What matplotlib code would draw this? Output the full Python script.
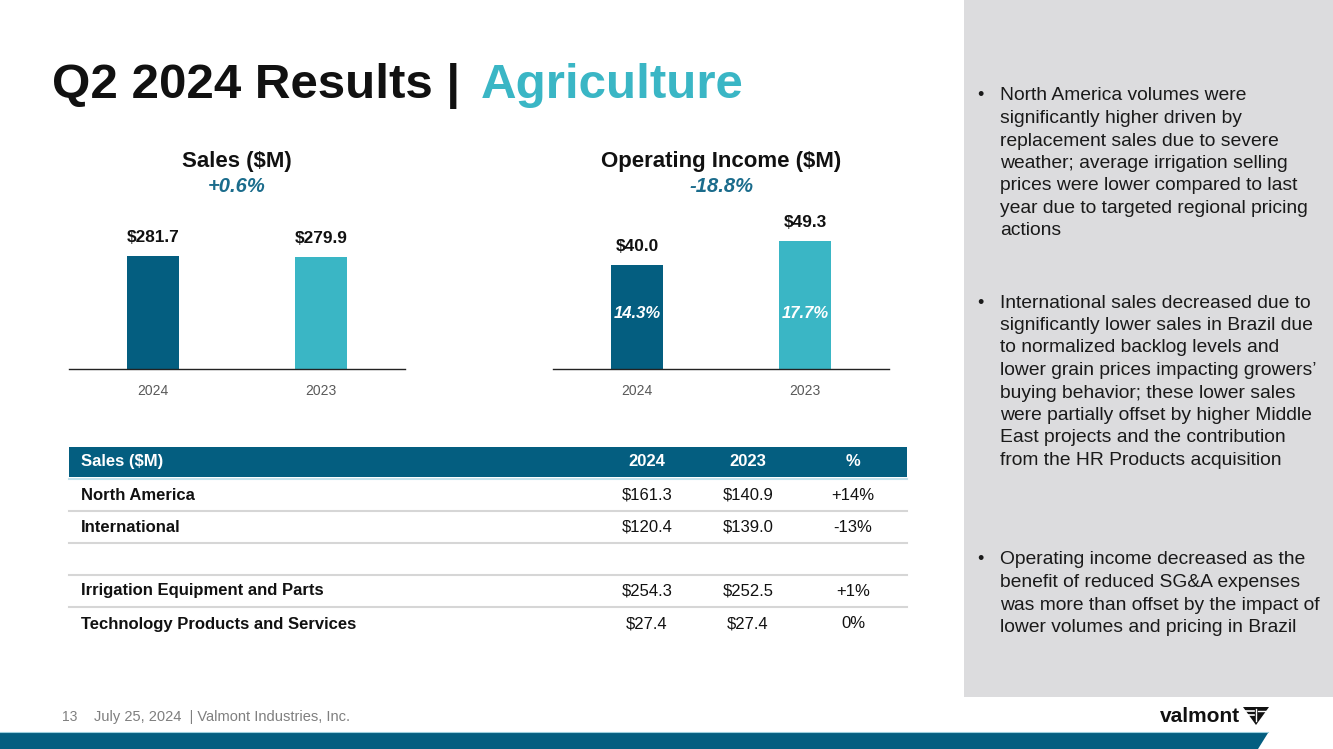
import matplotlib
matplotlib.use("Agg")
import matplotlib.pyplot as plt
from matplotlib.patches import Rectangle, Polygon
from matplotlib.lines import Line2D
from matplotlib.transforms import blended_transform_factory

plt.rcParams['font.family'] = ['Liberation Sans', 'DejaVu Sans']

# ---- data ----
years = ["2024", "2023"]
sales = [281.7, 279.9]
sales_labels = ["$281.7", "$279.9"]
op_income = [40.0, 49.3]
op_labels = ["$40.0", "$49.3"]
op_margin = ["14.3%", "17.7%"]
sales_change = "+0.6%"
op_change = "-18.8%"

table_header = ["Sales ($M)", "2024", "2023", "%"]
table_rows = [
    ["North America", "$161.3", "$140.9", "+14%"],
    ["International", "$120.4", "$139.0", "-13%"],
    ["", "", "", ""],
    ["Irrigation Equipment and Parts", "$254.3", "$252.5", "+1%"],
    ["Technology Products and Services", "$27.4", "$27.4", "0%"],
]

bullets = [
    ["North America volumes were", "significantly higher driven by",
     "replacement sales due to severe", "weather; average irrigation selling",
     "prices were lower compared to last", "year due to targeted regional pricing",
     "actions"],
    ["International sales decreased due to", "significantly lower sales in Brazil due",
     "to normalized backlog levels and", "lower grain prices impacting growers\u2019",
     "buying behavior; these lower sales", "were partially offset by higher Middle",
     "East projects and the contribution", "from the HR Products acquisition"],
    ["Operating income decreased as the", "benefit of reduced SG&A expenses",
     "was more than offset by the impact of", "lower volumes and pricing in Brazil"],
]

# ---- style ----
DARK = "#045E80"
LIGHT = "#3AB6C5"
W, H = 1333, 749

fig = plt.figure(figsize=(W / 100, H / 100), dpi=100)
fig.patch.set_facecolor("white")


def fx(x):
    return x / W


def fy(y):
    return 1 - y / H


def ftext(x, y, s, **kw):
    kw.setdefault("va", "center")
    fig.text(fx(x), fy(y), s, **kw)


def fpoly(pts, **kw):
    fig.patches.append(Polygon([(fx(a), fy(b)) for a, b in pts], closed=True,
                               transform=fig.transFigure, **kw))


def fline(xs, ys, **kw):
    fig.lines.append(Line2D([fx(v) for v in xs], [fy(v) for v in ys],
                            transform=fig.transFigure, **kw))


# right grey panel
fig.patches.append(Rectangle((fx(964), fy(697)), fx(W) - fx(964), fy(0) - fy(697),
                             transform=fig.transFigure, facecolor="#DCDCDE",
                             edgecolor="none", zorder=0))

# bottom band
fpoly([(0, 733), (1268, 733), (1258, 749), (0, 749)], facecolor=DARK, edgecolor="none")
fline([0, 1268], [732, 732], color="#9CCFDD", lw=0.8)

# title
ftext(52, 98, "Q2 2024 Results |", va="baseline", fontsize=35.5, fontweight="bold",
      color="#111111")
ftext(481, 98, "Agriculture", va="baseline", fontsize=35.5, fontweight="bold", color=LIGHT)


# ---- bar charts ----
def bar_chart(left, values, labels, ymax, title, change, inner=None):
    ax = fig.add_axes([fx(left), fy(369), 336 / W, 169 / H])
    x = range(len(values))
    ax.bar(x, values, width=0.315, color=[DARK, LIGHT], zorder=2)
    ax.set_xlim(-0.5, 1.5)
    ax.set_ylim(0, ymax)
    for s in ["top", "right", "left"]:
        ax.spines[s].set_visible(False)
    ax.spines["bottom"].set_color("#222222")
    ax.spines["bottom"].set_linewidth(1.0)
    ax.set_yticks([])
    ax.set_xticks(list(x))
    ax.set_xticklabels(years, fontsize=10, color="#595959")
    ax.tick_params(axis="x", length=0, pad=10.5)
    ax.patch.set_alpha(0)
    for i, (v, lab) in enumerate(zip(values, labels)):
        ax.annotate(lab, (i, v), xytext=(0, 8), textcoords="offset points",
                    ha="center", va="bottom", fontsize=12.4, fontweight="bold",
                    color="#111111")
        if inner is not None:
            tr = blended_transform_factory(ax.transData, ax.transAxes)
            ax.text(i, 56 / 169, inner[i], transform=tr, ha="center", va="center",
                    fontsize=12, fontweight="bold", style="italic", color="white",
                    zorder=3)
    cx = left + 168
    ftext(cx, 162, title, ha="center", fontsize=16, fontweight="bold", color="#111111")
    ftext(cx, 186, change, ha="center", fontsize=14.5, fontweight="bold",
          style="italic", color="#1B6C8C")
    return ax


bar_chart(69, sales, sales_labels, 421.3, "Sales ($M)", sales_change)
bar_chart(553, op_income, op_labels, 65.1, "Operating Income ($M)", op_change, inner=op_margin)

# ---- table ----
fig.patches.append(Rectangle((fx(69), fy(477)), fx(907) - fx(69), fy(447) - fy(477),
                             transform=fig.transFigure, facecolor=DARK, edgecolor="none"))
fline([69, 907], [478.5, 478.5], color="#C4E2EC", lw=1.5)
col_x = [81, 647, 748, 853]
TFS = 12
ftext(col_x[0], 462, table_header[0], ha="left", fontsize=TFS, fontweight="bold", color="white")
for cx, s in zip(col_x[1:], table_header[1:]):
    ftext(cx, 462, s, ha="center", fontsize=TFS, fontweight="bold", color="white")

row_y = [495, 527, 559, 591, 624]
for ry, row in zip(row_y, table_rows):
    ftext(col_x[0], ry + 4.5, row[0], ha="left", va="baseline", fontsize=TFS,
          fontweight="bold", color="#111111")
    for cx, s in zip(col_x[1:], row[1:]):
        ftext(cx, ry + 4.5, s, ha="center", va="baseline", fontsize=TFS, color="#111111")
for ly in [511, 543, 575, 607]:
    fline([69, 907], [ly, ly], color="#D6D6D6", lw=1.5)

# ---- bullets ----
starts = [96, 303, 560]
for y0, lines in zip(starts, bullets):
    ftext(980, y0, "\u2022", ha="center", fontsize=13, color="#1a1a1a")
    for k, line in enumerate(lines):
        ftext(1000, y0 + k * 22.5, line, ha="left", fontsize=13.9, color="#1a1a1a")

# ---- footer ----
ftext(62, 717, "13", ha="left", fontsize=10, color="#7F7F7F")
ftext(94, 717, "July 25, 2024  | Valmont Industries, Inc.", ha="left", fontsize=10.5,
      color="#7F7F7F")
ftext(1240, 716, "valmont", ha="right", fontsize=15, fontweight="heavy", color="#111111")
# small emblem (stylised V with stripes)
fpoly([(1243, 707), (1269, 707), (1256, 725)], facecolor="#111111", edgecolor="none")
fline([1244, 1254], [711, 711], color="white", lw=1.2)
fline([1246, 1254], [715, 715], color="white", lw=1.2)
fline([1256, 1256], [709, 721], color="white", lw=1.0)
fline([1258, 1268], [711, 711], color="white", lw=1.0)

fig.savefig("out.png", dpi=100, facecolor="white")
